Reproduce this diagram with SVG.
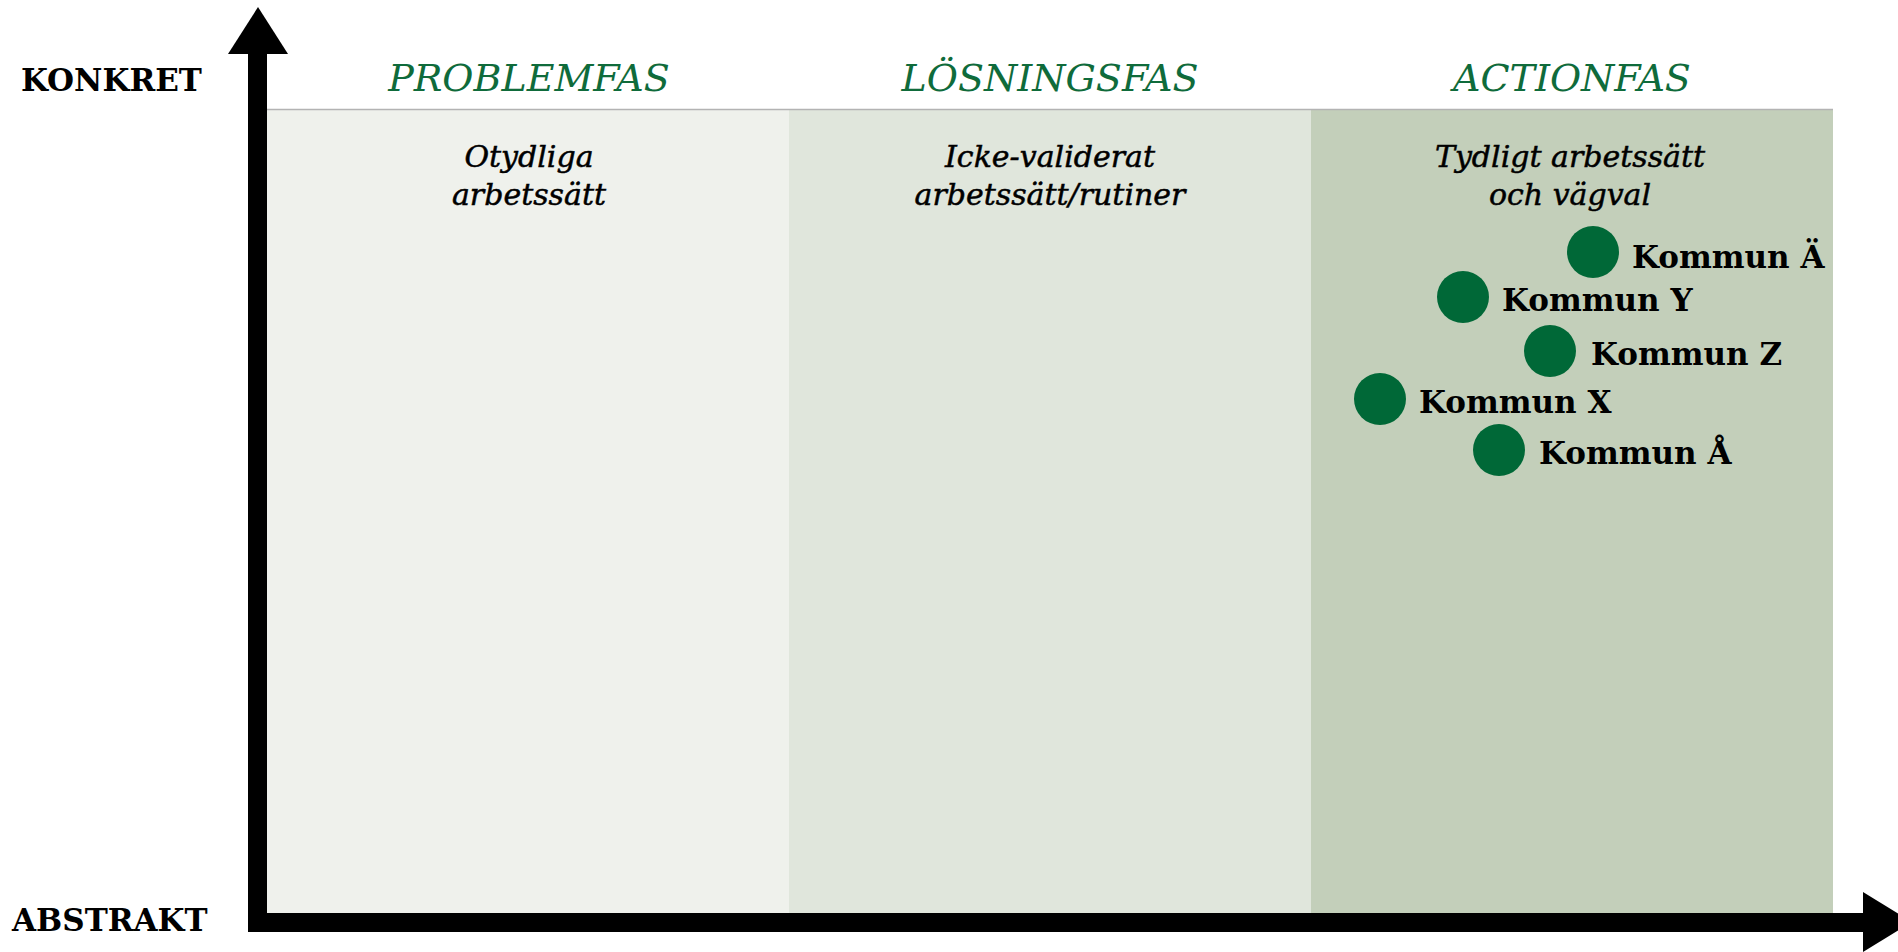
<svg xmlns="http://www.w3.org/2000/svg" width="1898" height="952" viewBox="0 0 1898 952">
<style>
.hdr{font-family:"DejaVu Serif","Liberation Serif",serif;font-style:italic;font-size:38px;fill:#0f6b3b;text-anchor:middle}
.sub{font-family:"DejaVu Serif","Liberation Serif",serif;font-style:italic;font-size:30px;fill:#000;stroke:#000;stroke-width:0.5;text-anchor:middle}
.ax{font-family:"DejaVu Serif","Liberation Serif",serif;font-weight:bold;font-size:31px;fill:#000}
.lbl{font-family:"DejaVu Serif","Liberation Serif",serif;font-weight:bold;font-size:31px;fill:#000}
.dot{fill:#006837}
</style>
<rect width="1898" height="952" fill="#fff"/>
<g id="panels">
<rect id="problemfas-panel" x="267" y="109" width="522" height="804" fill="#eff1ec"/>
<rect id="losningsfas-panel" x="789" y="109" width="522" height="804" fill="#e0e6dc"/>
<rect id="actionfas-panel" x="1311" y="109" width="522" height="804" fill="#c3cfba"/>
<line x1="267" y1="109.5" x2="1833" y2="109.5" stroke="#b3b3b3" stroke-width="1.5"/>
</g>
<g id="headers">
<text class="hdr" x="529" y="91">PROBLEMFAS</text>
<text class="hdr" x="1050" y="91">LÖSNINGSFAS</text>
<text class="hdr" x="1572" y="91">ACTIONFAS</text>
</g>
<g id="descriptions">
<text class="sub" x="529" y="167">Otydliga</text>
<text class="sub" x="529" y="205">arbetssätt</text>
<text class="sub" x="1050" y="167">Icke-validerat</text>
<text class="sub" x="1050" y="205">arbetssätt/rutiner</text>
<text class="sub" x="1570" y="167">Tydligt arbetssätt</text>
<text class="sub" x="1570" y="205">och vägval</text>
</g>
<g id="connectors">
<rect x="248" y="50" width="19" height="882" fill="#000"/>
<polygon points="228,54 258,7 288,54" fill="#000"/>
<rect x="248" y="913" width="1620" height="19" fill="#000"/>
<polygon points="1863,892 1912,922 1863,952" fill="#000"/>
</g>
<g id="axis-labels">
<text class="ax" x="21" y="91">KONKRET</text>
<text class="ax" x="12" y="931">ABSTRAKT</text>
</g>
<g id="kommun-a-uml">
<circle class="dot" cx="1593" cy="252" r="26"/>
<text class="lbl" x="1632" y="268">Kommun Ä</text>
</g>
<g id="kommun-y">
<circle class="dot" cx="1463" cy="297" r="26"/>
<text class="lbl" x="1502" y="311">Kommun Y</text>
</g>
<g id="kommun-z">
<circle class="dot" cx="1550" cy="351" r="26"/>
<text class="lbl" x="1591" y="365">Kommun Z</text>
</g>
<g id="kommun-x">
<circle class="dot" cx="1380" cy="399" r="26"/>
<text class="lbl" x="1419" y="413">Kommun X</text>
</g>
<g id="kommun-a-ring">
<circle class="dot" cx="1499" cy="450" r="26"/>
<text class="lbl" x="1539" y="464">Kommun Å</text>
</g>
</svg>
